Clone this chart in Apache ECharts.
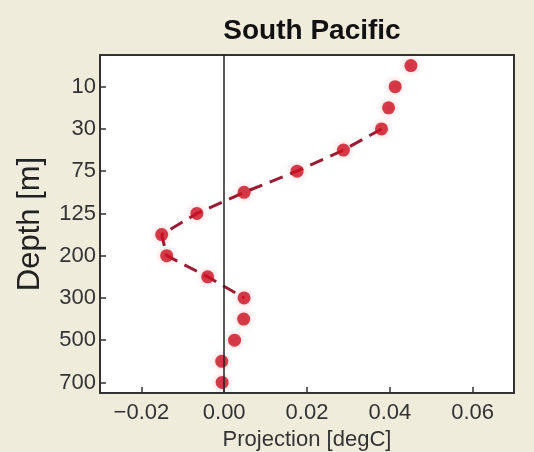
<!DOCTYPE html>
<html>
<head>
<meta charset="utf-8">
<script src="https://cdn.jsdelivr.net/npm/echarts@6/dist/echarts.min.js"></script>
<style>
  html, body { margin: 0; padding: 0; background: #efecdc; }
  #chart { width: 534px; height: 452px; }
</style>
</head>
<body>
<div id="chart"></div>
<script>
// depth levels (m), top to bottom
const depths = ['0', '10', '20', '30', '50', '75', '100', '125', '150', '200', '250', '300', '400', '500', '600', '700']
// projection per level (degC)
const projection = [0.0451, 0.0413, 0.0397, 0.0380, 0.0288, 0.0176, 0.0048, -0.0066, -0.0151, -0.0139, -0.0040, 0.0048, 0.0047, 0.0025, -0.0006, -0.0005]
// which levels are joined by the dashed line
const joined = [false, false, false, true, true, true, true, true, true, true, true, true, false, false, false, false]
const xTicks = [-0.02, 0, 0.02, 0.04, 0.06]

const chart = echarts.init(document.getElementById('chart'))

const pts = depths.map((d, i) => [projection[i], d])
const linePts = depths.map((d, i) => joined[i] ? [projection[i], d] : [null, d])
const showOdd = (idx) => idx % 2 === 1
const font = 'Liberation Sans'

const option = {
    backgroundColor: '#efecdc',
    title: {
        text: 'South Pacific',
        left: 307,
        top: 12,
        textAlign: 'center',
        textStyle: { fontFamily: font, fontWeight: 'bold', fontSize: 28, color: '#111' }
    },
    grid: {
        left: 100, right: 20, top: 55, bottom: 59,
        outerBoundsMode: 'none',
        show: true, backgroundColor: '#fff', borderColor: '#333', borderWidth: 2
    },
    xAxis: [{
        type: 'value',
        min: -0.03,
        max: 0.07,
        name: 'Projection [degC]',
        nameLocation: 'middle',
        nameGap: 33,
        nameTextStyle: { fontFamily: font, fontSize: 22, color: '#333' },
        axisLine: { show: true, onZero: false, lineStyle: { color: '#333', width: 2 } },
        axisTick: { show: false },
        axisLabel: {
            customValues: xTicks,
            margin: 9,
            fontFamily: font, fontSize: 22, color: '#333',
            formatter: (v) => v < 0 ? '\u2212' + Math.abs(v).toFixed(2) : v.toFixed(2)
        },
        splitLine: { show: false }
    }, {
        // tick-only copy of the x axis, lifted so its outward ticks sit inside the plot
        type: 'value',
        position: 'bottom',
        min: -0.03,
        max: 0.07,
        offset: -6,
        z: 10,
        axisLine: { show: true, onZero: false, lineStyle: { color: 'rgba(0,0,0,0)' } },
        axisTick: { show: true, inside: false, length: 6, customValues: xTicks, lineStyle: { color: '#333', width: 1.5 } },
        axisLabel: { show: true, customValues: xTicks, formatter: () => '' },
        splitLine: { show: false }
    }],
    yAxis: {
        type: 'category',
        data: depths,
        inverse: true,
        boundaryGap: true,
        name: 'Depth [m]',
        nameLocation: 'middle',
        nameGap: 54,
        nameTextStyle: { fontFamily: font, fontSize: 31, color: '#222' },
        axisLine: { show: true, onZero: false, lineStyle: { color: '#333', width: 2 } },
        axisTick: { show: true, inside: true, length: 6, alignWithLabel: true, interval: showOdd, lineStyle: { color: '#333', width: 1.5 } },
        axisLabel: {
            interval: showOdd,
            margin: 4,
            fontFamily: font, fontSize: 22, color: '#333'
        },
        splitLine: { show: false }
    },
    series: [
        {
            type: 'line',
            data: linePts,
            symbol: 'none',
            connectNulls: false,
            lineStyle: { color: '#9a1c34', width: 3, type: [14, 8] },
            markLine: {
                silent: true,
                symbol: 'none',
                label: { show: false },
                lineStyle: { color: '#222', width: 1.5, type: 'solid' },
                data: [{ xAxis: 0 }]
            },
            z: 2
        },
        {
            type: 'scatter',
            data: pts,
            symbolSize: 13,
            itemStyle: {
                color: '#cc1023',
                shadowBlur: 6,
                shadowColor: 'rgba(220,30,40,0.35)'
            },
            z: 3
        }
    ]
}

chart.setOption(option)
</script>
</body>
</html>
